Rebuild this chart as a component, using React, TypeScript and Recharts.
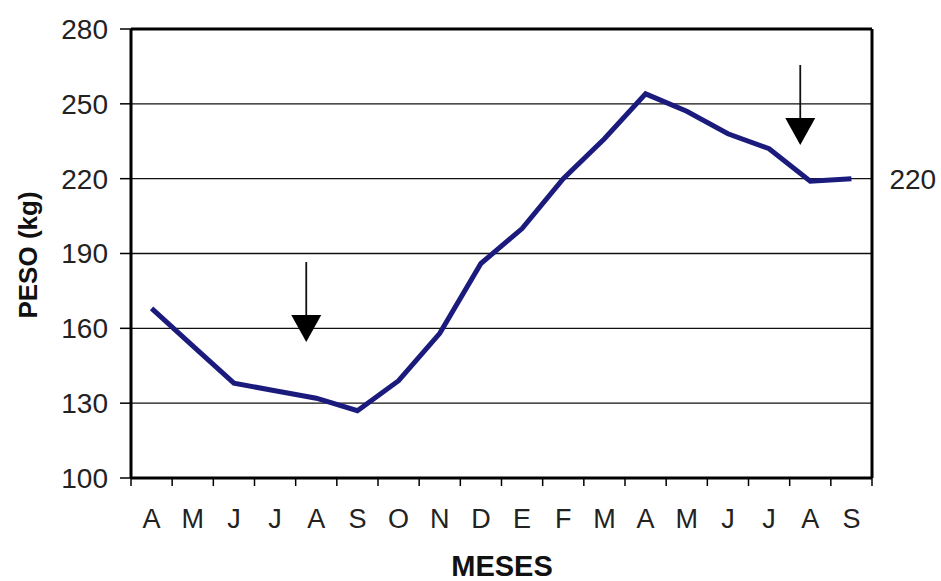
import React from 'react';
import {
  LineChart,
  Line,
  XAxis,
  YAxis,
  CartesianGrid,
  ReferenceLine,
  ReferenceDot
} from 'recharts';

const months = ['A', 'M', 'J', 'J', 'A', 'S', 'O', 'N', 'D', 'E', 'F', 'M', 'A', 'M', 'J', 'J', 'A', 'S'];
const peso = [168, 153, 138, 135, 132, 127, 139, 158, 186, 200, 220, 236, 254, 247, 238, 232, 219, 220];
const yTicks = [100, 130, 160, 190, 220, 250, 280];
// arrows point down onto the month index, tip at the given weight
const arrows = [
  { at: 4, tip: 154.5 },
  { at: 16, tip: 233.5 },
];

const data = months.map((m, i) => ({ idx: i, mes: m, peso: peso[i] }));

const W = 941;
const H = 581;
const PLOT_W = 872 - 131;
const BAND = PLOT_W / months.length;
const FONT = '"Liberation Sans", Arial, sans-serif';
const LINE = '#1b1b7d';

const MonthTick = (props: any) => {
  const { x, y, payload, index } = props;
  const last = index === months.length - 1;
  return (
    <g>
      <line x1={x - BAND / 2} y1={y} x2={x - BAND / 2} y2={y + 8} stroke="#000" strokeWidth={1.5} />
      {last && <line x1={x + BAND / 2} y1={y} x2={x + BAND / 2} y2={y + 8} stroke="#000" strokeWidth={1.5} />}
      <text x={x} y={y + 50} textAnchor="middle" fontSize={27} fontFamily={FONT} fill="#222">
        {months[payload.value]}
      </text>
    </g>
  );
};

const Arrow = (props: any) => {
  const { cx, cy } = props;
  const x = cx - 10;
  return (
    <g>
      <line x1={x} y1={cy - 80} x2={x} y2={cy - 24} stroke="#111" strokeWidth={1.8} />
      <polygon points={`${x - 15},${cy - 27} ${x + 15},${cy - 27} ${x},${cy}`} fill="#000" />
    </g>
  );
};

const EndLabel = (props: any) => {
  const { x, y, value, index } = props;
  if (index !== peso.length - 1) return null;
  return (
    <text x={x + 38} y={y} dy="0.36em" fontSize={28} fontFamily={FONT} fill="#222">
      {value}
    </text>
  );
};

export default function App() {
  return (
    <div style={{ position: 'absolute', left: 0, top: 0, background: '#fff' }}>
      <LineChart width={W} height={H} data={data} margin={{ top: 29, right: 0, bottom: 0, left: 0 }}>
        <CartesianGrid horizontal vertical={false} stroke="#111" strokeWidth={1.4} />
        <XAxis
          dataKey="idx"
          type="category"
          scale="band"
          height={103}
          tickSize={0}
          tickMargin={0}
          tickLine={false}
          interval={0}
          axisLine={{ stroke: '#000', strokeWidth: 3 }}
          tick={<MonthTick />}
          label={{
            content: () => (
              <text x={502} y={576} textAnchor="middle" fontSize={29} fontWeight="bold" fontFamily={FONT} fill="#111">
                MESES
              </text>
            ),
          }}
        />
        <YAxis
          domain={[100, 280]}
          ticks={yTicks}
          width={131}
          tickSize={11}
          tickMargin={12}
          interval={0}
          axisLine={{ stroke: '#000', strokeWidth: 3 }}
          tickLine={{ stroke: '#000', strokeWidth: 1.5 }}
          tick={{ fontSize: 28, fontFamily: FONT, fill: '#222' }}
          label={{
            content: () => (
              <text
                x={37}
                y={255}
                transform="rotate(-90 37 255)"
                textAnchor="middle"
                fontSize={26}
                fontWeight="bold"
                fontFamily={FONT}
                fill="#111"
              >
                PESO (kg)
              </text>
            ),
          }}
        />
        <YAxis
          yAxisId="borde"
          orientation="right"
          domain={[100, 280]}
          width={69}
          tick={false}
          tickLine={false}
          axisLine={{ stroke: '#000', strokeWidth: 3 }}
        />
        <ReferenceLine y={280} stroke="#000" strokeWidth={3} />
        <Line
          type="linear"
          dataKey="peso"
          stroke={LINE}
          strokeWidth={5}
          dot={false}
          activeDot={false}
          isAnimationActive={false}
          label={<EndLabel />}
        />
        {arrows.map((a) => (
          <ReferenceDot key={a.at} x={a.at} y={a.tip} r={0} shape={<Arrow />} />
        ))}
      </LineChart>
    </div>
  );
}
